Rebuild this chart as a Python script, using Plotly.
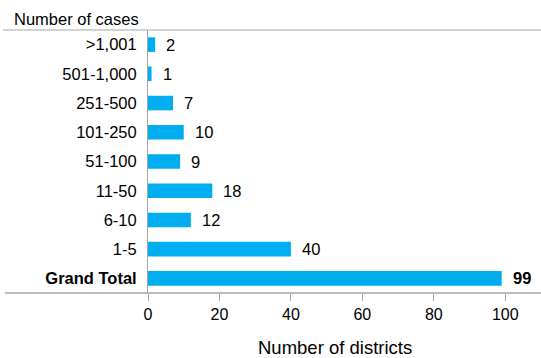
import plotly.graph_objects as go

# Case-size bands (bottom to top) and number of districts in each
categories = ["Grand Total", "1-5", "6-10", "11-50", "51-100", "101-250", "251-500", "501-1,000", ">1,001"]
districts = [99, 40, 12, 18, 9, 10, 7, 1, 2]

tick_text = ["<b>Grand Total</b>"] + categories[1:]
bar_labels = ["<b>99</b>"] + [str(v) for v in districts[1:]]

FONT = "Liberation Sans, Arial, Helvetica, sans-serif"
BAR = "#00ADEE"
AXIS = "#A6A6A6"

fig = go.Figure(
    go.Bar(
        y=categories,
        x=districts,
        orientation="h",
        width=0.5,
        marker=dict(color=BAR, line=dict(width=0)),
        hoverinfo="x+y",
    )
)

# value labels just right of each bar end
value_annotations = [
    dict(text=lbl, x=val, y=cat, xref="x", yref="y", xanchor="left", yanchor="middle",
         xshift=9, showarrow=False, font=dict(size=16.5, color="#000000"))
    for cat, val, lbl in zip(categories, districts, bar_labels)
]

fig.update_layout(
    width=541,
    height=358,
    margin=dict(l=148, r=0, t=30, b=65),
    paper_bgcolor="white",
    plot_bgcolor="white",
    showlegend=False,
    font=dict(family=FONT, size=16, color="#000000"),
    xaxis=dict(
        range=[0, 110],
        tickvals=[0, 20, 40, 60, 80, 100],
        showgrid=False,
        zeroline=False,
        showline=False,
        ticks="outside",
        ticklen=7,
        tickcolor=AXIS,
        tickfont=dict(size=16),
    ),
    yaxis=dict(
        categoryorder="array",
        categoryarray=categories,
        tickvals=categories,
        ticktext=tick_text,
        range=[-0.5, 8.5],
        showgrid=False,
        zeroline=False,
        showline=True,
        linecolor=AXIS,
        linewidth=1,
        ticks="",
        ticklabelstandoff=7,
        tickfont=dict(size=16.5),
    ),
    shapes=[
        # top and bottom rules across the chart
        dict(type="line", xref="paper", yref="paper", x0=-0.369, x1=1, y0=1, y1=1,
             line=dict(color=AXIS, width=1)),
        dict(type="line", xref="paper", yref="paper", x0=-0.364, x1=1, y0=0, y1=0,
             line=dict(color=AXIS, width=1.5)),
    ],
    annotations=value_annotations + [
        dict(text="Number of cases", xref="paper", yref="paper", x=-0.347, y=1.042,
             xanchor="left", yanchor="middle", showarrow=False, font=dict(size=16.5)),
        dict(text="Number of districts", xref="paper", yref="paper", x=0.476, y=-0.209,
             xanchor="center", yanchor="middle", showarrow=False, font=dict(size=18.5)),
    ],
)

fig.write_html("out.html")
